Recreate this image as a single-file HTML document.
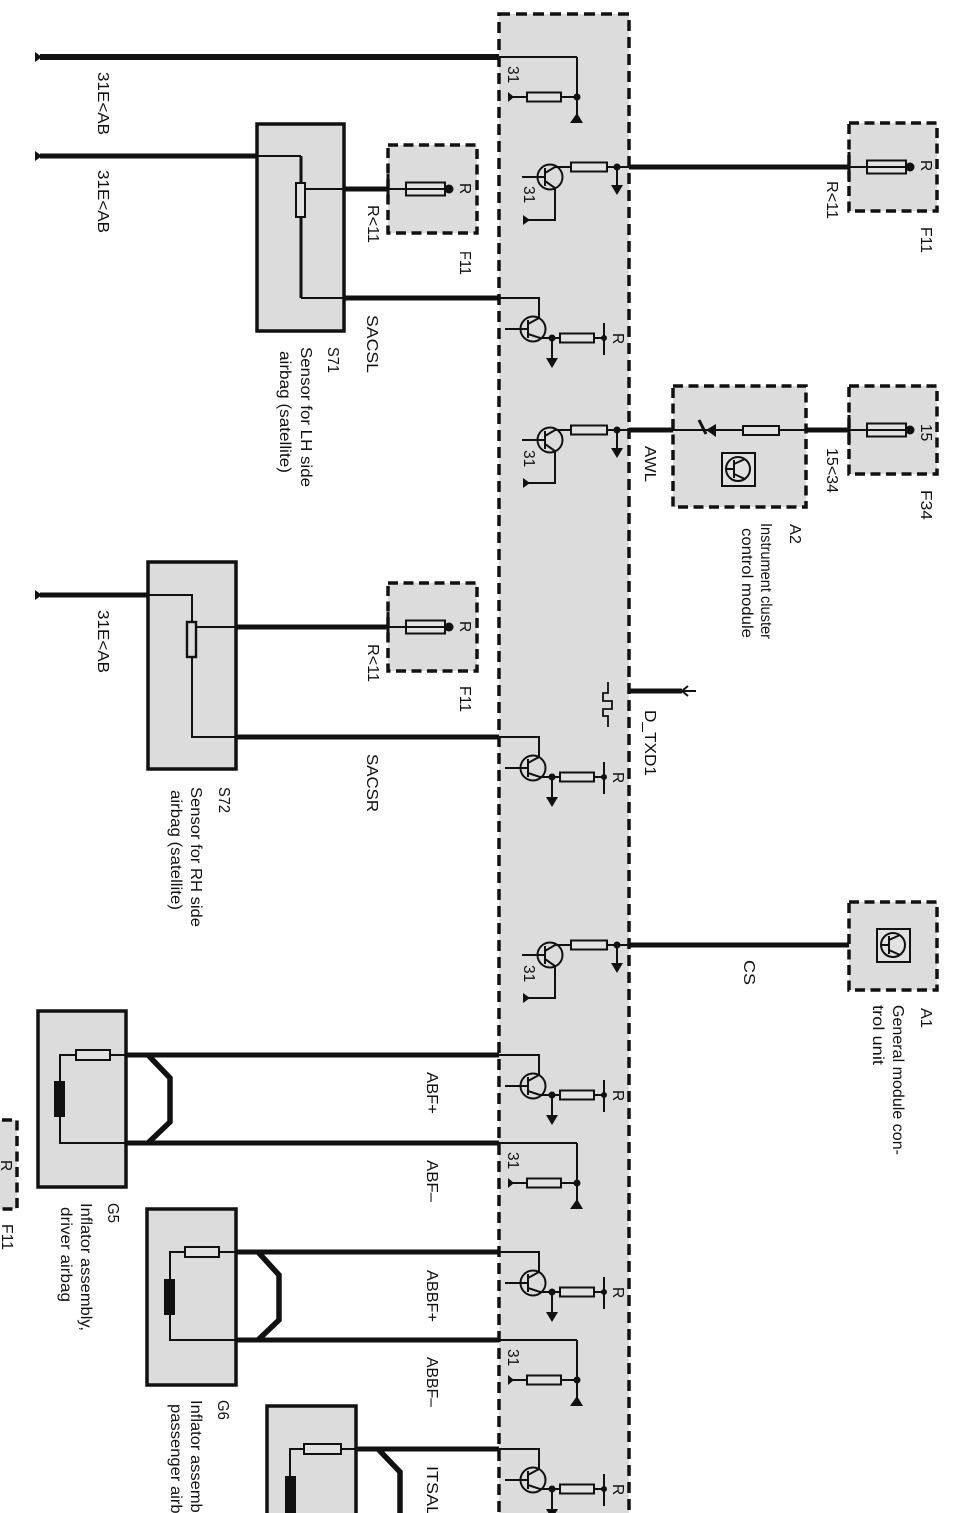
<!DOCTYPE html>
<html><head><meta charset="utf-8"><style>
html,body{margin:0;padding:0;background:#fff}
svg{display:block}
text{font-family:"Liberation Sans",sans-serif;font-size:15.5px;fill:#111}
</style></head><body>
<svg width="967" height="1513" viewBox="0 0 967 1513" xmlns="http://www.w3.org/2000/svg">
<defs>
<g id="gnd" fill="none" stroke="#111" stroke-width="2">
<path d="M510 0H577M577 -40V20M499 -40H577"/>
<rect x="527" y="-4.5" width="34" height="9" fill="#e2e2e2" stroke-width="2"/>
<circle cx="577" cy="0" r="2.5" fill="#111"/>
<path d="M508 -5V5L514 0Z M570 26H583L577 16Z" fill="#111" stroke="none"/>
</g>
<g id="tout" fill="none" stroke="#111" stroke-width="2">
<circle cx="550" cy="10" r="12.5" stroke-width="2"/>
<path d="M522 10H545M545 1V19M545 6L555 0H571M607 0H629M545 14L555 21V53H524M617 0V20"/>
<rect x="571" y="-4.5" width="36" height="9" fill="#e2e2e2" stroke-width="2"/>
<circle cx="617" cy="0" r="2.5" fill="#111"/>
<path d="M611 18H623L617 28Z M523 48V58L530 53Z" fill="#111" stroke="none"/>
</g>
<g id="tin" fill="none" stroke="#111" stroke-width="2">
<path d="M499 0H539V20"/>
<circle cx="533" cy="31" r="12.5" stroke-width="2"/>
<path d="M505 31H528M528 22V40M528 26L539 20M528 36L540 40H560M594 40H604M552 40V62"/>
<rect x="560" y="35.5" width="34" height="9" fill="#e2e2e2" stroke-width="2"/>
<path d="M604 25V57"/>
<circle cx="552" cy="40" r="2.5" fill="#111"/><circle cx="604" cy="40" r="2" fill="#111"/>
<path d="M546 60H558L552 70Z" fill="#111" stroke="none"/>
</g>
<g id="fuse" fill="none" stroke="#111" stroke-width="2">
<path d="M0 0H18"/>
<rect x="18" y="-6.5" width="39" height="13" fill="#e2e2e2" stroke-width="2"/>
<path d="M18 0H57"/>
<circle cx="61" cy="0" r="4.5" fill="#111" stroke="none"/>
<path d="M0 -15V15" stroke-width="3"/>
</g>
</defs>

<!-- main panel -->
<rect x="499" y="14" width="130" height="1520" fill="#dcdcdc" stroke="#111" stroke-width="3.5" stroke-dasharray="11 6"/>

<!-- component boxes -->
<g fill="#dcdcdc" stroke="#111" stroke-width="3.5">
<rect x="257" y="124" width="87" height="207"/>
<rect x="148" y="562" width="88" height="207"/>
<rect x="38" y="1011" width="88" height="176"/>
<rect x="147" y="1209" width="89" height="176"/>
<rect x="267" y="1406" width="89" height="140"/>
</g>
<g fill="#dcdcdc" stroke="#111" stroke-width="3.5" stroke-dasharray="10 5.5">
<rect x="388" y="145" width="89" height="88"/>
<rect x="388" y="583" width="89" height="88"/>
<rect x="849" y="123" width="88" height="88"/>
<rect x="849" y="386" width="88" height="88"/>
<rect x="673" y="386" width="133" height="121"/>
<rect x="849" y="902" width="88" height="88"/>
<rect x="-60" y="1120" width="77" height="89"/>
</g>

<!-- thick wires -->
<g fill="none" stroke="#111" stroke-width="5">
<path d="M40 57H499" stroke-width="6"/>
<path d="M40 156H257M40 595H148"/>
<path d="M344 189H388M344 298H499M236 627H388M236 737H499"/>
<path d="M629 167H849M629 430H673M806 430H849M629 945H849M629 691H682"/>
<path d="M126 1055H499M126 1143H499M236 1252H499M236 1340H499M356 1449H499"/>
<path d="M148 1055L170 1078V1122L148 1143M258 1252L279 1275V1320L258 1340M378 1449L400 1472V1520" stroke-width="5.5"/>
</g>
<path d="M35 52V62L42 57ZM35 151V161L42 156ZM35 590V600L42 595Z" fill="#111"/>
<path d="M688 686L682 691L688 696M682 691H696" fill="none" stroke="#111" stroke-width="2"/>
<path d="M608 682V693H603V701H612V709H603V716H608V727" fill="none" stroke="#111" stroke-width="1.8"/>

<g fill="none" stroke="#111" stroke-width="2">
<!-- S71 -->
<path d="M257 156H301M344 298H301M305 189H344"/>
<path d="M301 156V298" stroke-width="3"/>
<rect x="296" y="183" width="9" height="34" fill="#e2e2e2" stroke-width="2"/>
<!-- S72 -->
<path d="M148 595H192V737H236M196 627H236"/>
<rect x="187" y="622" width="9" height="35" fill="#dcdcdc" stroke-width="2.4"/>
<!-- G5 -->
<path d="M126 1055H60V1143H126"/>
<rect x="76" y="1050" width="34" height="10" fill="#e2e2e2"/>
<!-- G6 -->
<path d="M236 1252H170V1340H236"/>
<rect x="185" y="1247" width="34" height="10" fill="#e2e2e2"/>
<!-- third -->
<path d="M356 1449H290V1520"/>
<rect x="304" y="1444" width="37" height="10" fill="#e2e2e2"/>
<!-- A2 -->
<path d="M673 430H806"/>
<rect x="743" y="426" width="36" height="9" fill="#e2e2e2"/>
<path d="M716 424V437L706 430Z" fill="#111" stroke="none"/>
<path d="M699 420L706 434" stroke-width="3"/>
<rect x="722" y="453" width="33" height="33" fill="#e2e2e2"/>
<circle cx="738" cy="469" r="12"/>
<path d="M727 469H734M734 460V478M734 464L745 459M734 474L745 479"/>
<!-- A1 -->
<rect x="877" y="929" width="33" height="33" fill="#e2e2e2"/>
<circle cx="893" cy="945" r="12"/>
<path d="M882 945H889M889 936V954M889 940L900 935M889 950L900 955"/>
</g>
<path d="M54 1081h11v36h-11zM164 1279h11v36h-11zM285 1476h11v40h-11z" fill="#111"/>

<!-- repeating parts -->
<use href="#gnd" y="97"/>
<use href="#gnd" y="1183"/>
<use href="#gnd" y="1380"/>
<use href="#tout" y="167"/>
<use href="#tout" y="430"/>
<use href="#tout" y="945"/>
<use href="#tin" y="298"/>
<use href="#tin" y="737"/>
<use href="#tin" y="1055"/>
<use href="#tin" y="1252"/>
<use href="#tin" y="1449"/>
<use href="#fuse" x="388" y="189"/>
<use href="#fuse" x="388" y="627"/>
<use href="#fuse" x="849" y="167"/>
<use href="#fuse" x="849" y="430"/>

<!-- labels -->
<g transform="translate(2,0)">
<text transform="translate(96,72) rotate(90)" textLength="63" lengthAdjust="spacingAndGlyphs">31E&lt;AB</text>
<text transform="translate(96,170) rotate(90)" textLength="63" lengthAdjust="spacingAndGlyphs">31E&lt;AB</text>
<text transform="translate(96,610) rotate(90)" textLength="63" lengthAdjust="spacingAndGlyphs">31E&lt;AB</text>

<text transform="translate(366,205) rotate(90)" textLength="38" lengthAdjust="spacingAndGlyphs">R&lt;11</text>
<text transform="translate(366,644) rotate(90)" textLength="38" lengthAdjust="spacingAndGlyphs">R&lt;11</text>
<text transform="translate(825,181) rotate(90)" textLength="38" lengthAdjust="spacingAndGlyphs">R&lt;11</text>
<text transform="translate(458,251) rotate(90)" textLength="24" lengthAdjust="spacingAndGlyphs">F11</text>
<text transform="translate(458,686) rotate(90)" textLength="26" lengthAdjust="spacingAndGlyphs">F11</text>
<text transform="translate(919,227) rotate(90)" textLength="26" lengthAdjust="spacingAndGlyphs">F11</text>
<text transform="translate(458,183) rotate(90)">R</text>
<text transform="translate(458,621) rotate(90)">R</text>
<text transform="translate(919,160) rotate(90)">R</text>
<text transform="translate(919,424) rotate(90)">15</text>
<text transform="translate(919,490) rotate(90)" textLength="30" lengthAdjust="spacingAndGlyphs">F34</text>
<text transform="translate(825,448) rotate(90)" textLength="45" lengthAdjust="spacingAndGlyphs">15&lt;34</text>
<text transform="translate(643,446) rotate(90)" textLength="36" lengthAdjust="spacingAndGlyphs">AWL</text>

<text transform="translate(365,315) rotate(90)" textLength="58" lengthAdjust="spacingAndGlyphs">SACSL</text>
<text transform="translate(326,347) rotate(90)" textLength="26" lengthAdjust="spacingAndGlyphs">S71</text>
<text transform="translate(299,347) rotate(90)" textLength="140" lengthAdjust="spacingAndGlyphs">Sensor for LH side</text>
<text transform="translate(278,351) rotate(90)" textLength="122" lengthAdjust="spacingAndGlyphs">airbag (satellite)</text>

<text transform="translate(365,754) rotate(90)" textLength="58" lengthAdjust="spacingAndGlyphs">SACSR</text>
<text transform="translate(217,787) rotate(90)" textLength="26" lengthAdjust="spacingAndGlyphs">S72</text>
<text transform="translate(189,787) rotate(90)" textLength="140" lengthAdjust="spacingAndGlyphs">Sensor for RH side</text>
<text transform="translate(169,790) rotate(90)" textLength="120" lengthAdjust="spacingAndGlyphs">airbag (satellite)</text>

<text transform="translate(788,524) rotate(90)" textLength="20" lengthAdjust="spacingAndGlyphs">A2</text>
<text transform="translate(759,523) rotate(90)" textLength="116" lengthAdjust="spacingAndGlyphs">Instrument cluster</text>
<text transform="translate(740,528) rotate(90)" textLength="110" lengthAdjust="spacingAndGlyphs">control module</text>

<text transform="translate(643,710) rotate(90)" textLength="66" lengthAdjust="spacingAndGlyphs">D_TXD1</text>
<text transform="translate(742,960) rotate(90)" textLength="25" lengthAdjust="spacingAndGlyphs">CS</text>
<text transform="translate(919,1008) rotate(90)" textLength="20" lengthAdjust="spacingAndGlyphs">A1</text>
<text transform="translate(891,1005) rotate(90)" textLength="150" lengthAdjust="spacingAndGlyphs">General module con-</text>
<text transform="translate(871,1005) rotate(90)" textLength="60" lengthAdjust="spacingAndGlyphs">trol unit</text>

<text transform="translate(425,1072) rotate(90)" textLength="42" lengthAdjust="spacingAndGlyphs">ABF+</text>
<text transform="translate(425,1160) rotate(90)" textLength="42" lengthAdjust="spacingAndGlyphs">ABF–</text>
<text transform="translate(425,1270) rotate(90)" textLength="52" lengthAdjust="spacingAndGlyphs">ABBF+</text>
<text transform="translate(425,1357) rotate(90)" textLength="50" lengthAdjust="spacingAndGlyphs">ABBF–</text>
<text transform="translate(425,1466) rotate(90)" textLength="50" lengthAdjust="spacingAndGlyphs">ITSAL</text>

<text transform="translate(106,1203) rotate(90)" textLength="20" lengthAdjust="spacingAndGlyphs">G5</text>
<text transform="translate(79,1203) rotate(90)" textLength="128" lengthAdjust="spacingAndGlyphs">Inflator assembly,</text>
<text transform="translate(59,1207) rotate(90)" textLength="95" lengthAdjust="spacingAndGlyphs">driver airbag</text>
<text transform="translate(216,1400) rotate(90)" textLength="20" lengthAdjust="spacingAndGlyphs">G6</text>
<text transform="translate(189,1400) rotate(90)" textLength="128" lengthAdjust="spacingAndGlyphs">Inflator assembly,</text>
<text transform="translate(169,1404) rotate(90)" textLength="128" lengthAdjust="spacingAndGlyphs">passenger airbag</text>

<text transform="translate(-1,1160) rotate(90)">R</text>
<text transform="translate(0,1224) rotate(90)" textLength="26" lengthAdjust="spacingAndGlyphs">F11</text>

<text transform="translate(506,66) rotate(90)">31</text>
<text transform="translate(506,1152) rotate(90)">31</text>
<text transform="translate(506,1349) rotate(90)">31</text>
<text transform="translate(522,186) rotate(90)">31</text>
<text transform="translate(522,450) rotate(90)">31</text>
<text transform="translate(522,965) rotate(90)">31</text>
<text transform="translate(611,333) rotate(90)">R</text>
<text transform="translate(611,772) rotate(90)">R</text>
<text transform="translate(611,1090) rotate(90)">R</text>
<text transform="translate(611,1287) rotate(90)">R</text>
<text transform="translate(611,1484) rotate(90)">R</text>
</g>
</svg>
</body></html>
